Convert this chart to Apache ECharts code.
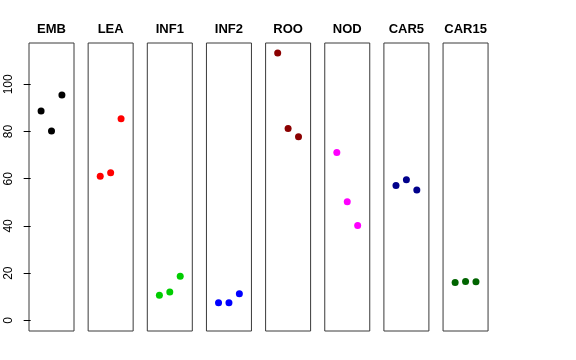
<!DOCTYPE html>
<html><head><meta charset="utf-8">
<script src="https://cdn.jsdelivr.net/npm/echarts@6/dist/echarts.min.js"></script>
<style>html,body{margin:0;padding:0;background:#fff}#c{width:576px;height:360px}</style>
</head><body><div id="c"></div>
<script>
const categories = ['EMB','LEA','INF1','INF2','ROO','NOD','CAR5','CAR15'];
const colors = ['#000000','#FF0000','#00CD00','#0000FF','#8B0000','#FF00FF','#00008B','#006400'];
const EMB = [88.7, 80.2, 95.5];
const LEA = [61.1, 62.5, 85.4];
const INF1 = [10.6, 12.0, 18.7];
const INF2 = [7.4, 7.4, 11.3];
const ROO = [113.3, 81.3, 77.8];
const NOD = [71.1, 50.2, 40.2];
const CAR5 = [57.1, 59.6, 55.2];
const CAR15 = [16.0, 16.5, 16.4];
const values = [EMB, LEA, INF1, INF2, ROO, NOD, CAR5, CAR15];
const yTicks = [0, 20, 40, 60, 80, 100];
const xPos = [1, 2, 3];

const chart = echarts.init(document.getElementById('c'));
const grids = [], xAxes = [], yAxes = [], series = [], graphics = [];
const L0 = 29, step = 59.15, W = 45, T = 43, H = 288;
categories.forEach((name, i) => {
  const left = L0 + i * step;
  grids.push({left: left, top: T, width: W, height: H, show: true, borderColor: '#3a3a3a', borderWidth: 1, backgroundColor: 'transparent'});
  xAxes.push({type: 'value', gridIndex: i, min: -0.16, max: 4.16, show: false});
  yAxes.push({type: 'value', gridIndex: i, min: -4.52, max: 117.52, show: i === 0,
    splitLine: {show: false}, axisLine: {show: false},
    axisTick: {show: true, length: 7, inside: false, customValues: yTicks, lineStyle: {color: '#000'}},
    axisLabel: {show: true, rotate: 90, margin: 14, customValues: yTicks, color: '#000', fontSize: 12, fontFamily: 'Liberation Sans, Arial, sans-serif'}
  });
  series.push({type: 'scatter', xAxisIndex: i, yAxisIndex: i, symbolSize: 7,
    itemStyle: {color: colors[i], opacity: 1}, data: values[i].map((v, k) => [xPos[k], v])});
  graphics.push({type: 'text', x: left + W / 2, y: 29, style: {text: name, textAlign: 'center', textVerticalAlign: 'middle', fontSize: 13, fontWeight: 'bold', fontFamily: 'Liberation Sans, Arial, sans-serif', fill: '#000'}});
});
chart.setOption({animation: false, grid: grids, xAxis: xAxes, yAxis: yAxes, series: series, graphic: graphics});
</script></body></html>
